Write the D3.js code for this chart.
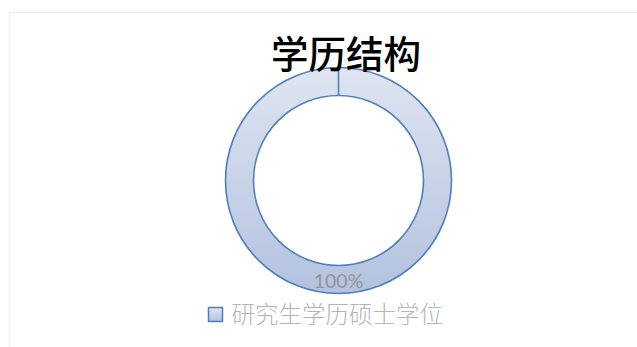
<!DOCTYPE html>
<html>
<head>
<meta charset="utf-8">
<script src="https://cdn.jsdelivr.net/npm/d3@7"></script>
<style>
  html, body { margin: 0; padding: 0; background: #ffffff; }
  svg { display: block; }
</style>
</head>
<body>
<svg id="chart" width="637" height="347"></svg>
<script>
// Education structure: one category holds the whole share
const categories = ["研究生学历硕士学位"];
const values = [100];
const chartTitle = "学历结构";

const W = 637, H = 347;
const cx = 338.5, cy = 180.5;
const outerR = 113, innerR = 85;

const svg = d3.select("#chart");

// faint chart-area frame
svg.append("path")
  .attr("d", `M9.5,${H} V12.5 H${W}`)
  .attr("fill", "none")
  .attr("stroke", "#eeeeee")
  .attr("stroke-width", 1.5);

// vertical gradient for the ring fill (in the ring group's coordinates)
const defs = svg.append("defs");
const grad = defs.append("linearGradient")
  .attr("id", "ringFill")
  .attr("gradientUnits", "userSpaceOnUse")
  .attr("x1", 0).attr("y1", -outerR)
  .attr("x2", 0).attr("y2", outerR);
grad.append("stop").attr("offset", "0%").attr("stop-color", "#dfe5f1");
grad.append("stop").attr("offset", "100%").attr("stop-color", "#b2c2df");

const legGrad = defs.append("linearGradient")
  .attr("id", "legFill")
  .attr("x1", 0).attr("y1", 0).attr("x2", 0).attr("y2", 1);
legGrad.append("stop").attr("offset", "0%").attr("stop-color", "#dfe5f1");
legGrad.append("stop").attr("offset", "100%").attr("stop-color", "#b2c2df");

const pie = d3.pie().sort(null).value(d => d);
const arcs = pie(values);
const arc = d3.arc().innerRadius(innerR).outerRadius(outerR);

const g = svg.append("g").attr("transform", `translate(${cx},${cy})`);

g.selectAll("path.slice")
  .data(arcs)
  .join("path")
  .attr("class", "slice")
  .attr("d", arc)
  .attr("fill", "url(#ringFill)")
  .attr("stroke", "#4f7fbd")
  .attr("stroke-width", 1.6);

// slice boundary at the start angle
g.selectAll("line.edge")
  .data(arcs)
  .join("line")
  .attr("class", "edge")
  .attr("x1", d => innerR * Math.sin(d.startAngle))
  .attr("y1", d => -innerR * Math.cos(d.startAngle))
  .attr("x2", d => outerR * Math.sin(d.startAngle))
  .attr("y2", d => -outerR * Math.cos(d.startAngle))
  .attr("stroke", "#4f7fbd")
  .attr("stroke-width", 1.6);

// percentage label inside the ring, at the bottom
const total = d3.sum(values);
const midR = (innerR + outerR) / 2;
g.selectAll("text.pct")
  .data(arcs)
  .join("text")
  .attr("class", "pct")
  .attr("x", 0)
  .attr("y", midR + 8)
  .attr("text-anchor", "middle")
  .attr("font-family", "Lato, 'Liberation Sans', sans-serif")
  .attr("font-size", 19.5)
  .attr("fill", "#959595")
  .text(d => Math.round(d.value / total * 100) + "%");

// title
svg.append("text")
  .attr("x", 346)
  .attr("y", 68)
  .attr("text-anchor", "middle")
  .attr("font-family", "'Noto Sans CJK SC', sans-serif")
  .attr("font-weight", 500)
  .attr("font-size", 37.5)
  .attr("fill", "#000000")
  .text(chartTitle);

// legend
const leg = svg.append("g").attr("transform", "translate(208.5,307.5)");
leg.append("rect")
  .attr("width", 14).attr("height", 14)
  .attr("fill", "url(#legFill)")
  .attr("stroke", "#4f7fbd")
  .attr("stroke-width", 1.5);
leg.append("text")
  .attr("x", 23)
  .attr("y", 15)
  .attr("font-family", "'Noto Sans CJK SC', sans-serif")
  .attr("font-weight", 300)
  .attr("font-size", 23.5)
  .attr("fill", "#b5b5b5")
  .text(categories[0]);
</script>
</body>
</html>
